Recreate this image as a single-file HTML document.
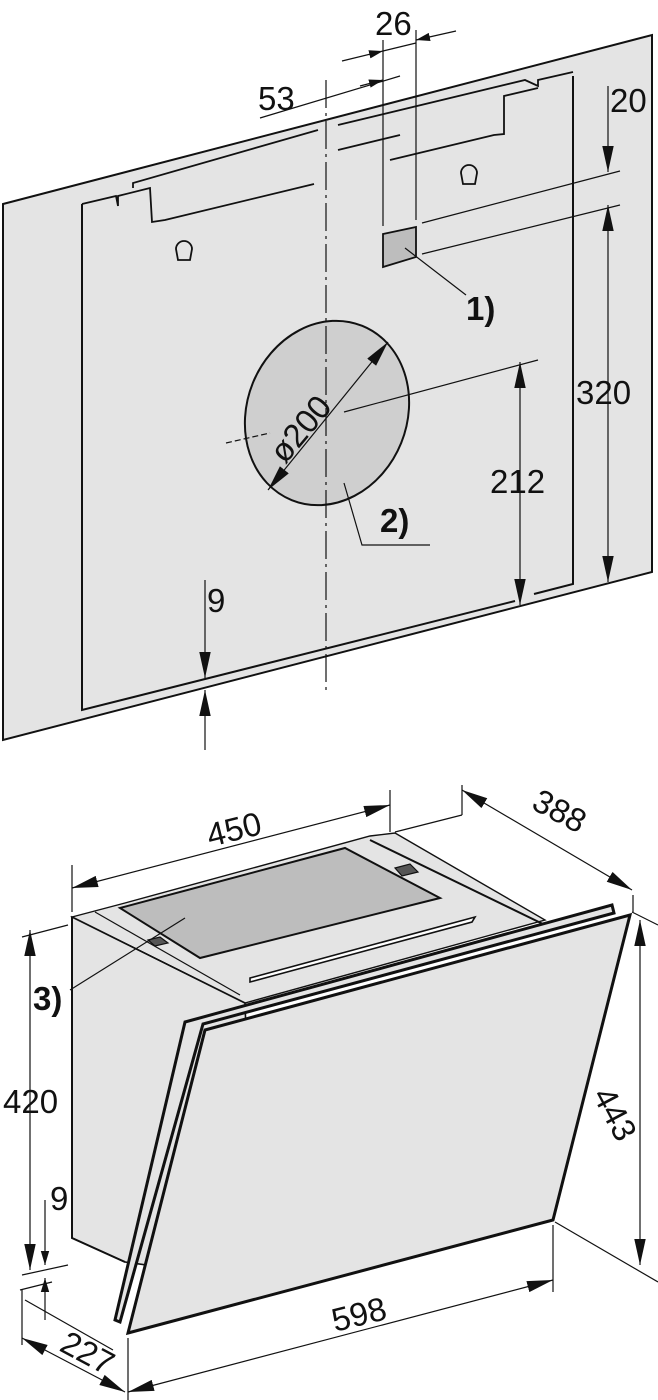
<!DOCTYPE html>
<html><head><meta charset="utf-8"><style>
html,body{margin:0;padding:0;background:#fff;}
svg{display:block;}
text{font-family:"Liberation Sans",sans-serif;fill:#111;}
</style></head><body>
<svg width="658" height="1400" viewBox="0 0 658 1400" xmlns="http://www.w3.org/2000/svg">
<defs>
<marker id="a" viewBox="0 0 10 10" refX="10" refY="5" markerWidth="14" markerHeight="14" markerUnits="userSpaceOnUse" orient="auto-start-reverse"><path d="M0,2 L10,5 L0,8 Z" fill="#111"/></marker>
<marker id="b" viewBox="0 0 10 10" refX="10" refY="5" markerWidth="26" markerHeight="26" markerUnits="userSpaceOnUse" orient="auto-start-reverse"><path d="M0,2.8 L10,5 L0,7.2 Z" fill="#111"/></marker>
</defs>
<g stroke="#111" fill="none" stroke-width="1.2">
<polygon points="3,204 652,35 652,572 3,740" fill="#e4e4e4" stroke-width="2"/>
<polyline points="82,204 82,710 515,601" stroke-width="2"/>
<polyline points="534,594 573,584 573,76" stroke-width="2"/>
<polyline points="82,204 116,196 118,206 118,196 150,188 152,222 165,220 314,184" stroke-width="1.8"/>
<polyline points="133,188 133,183 318,130" stroke-width="1.8"/>
<polyline points="338,125 525,80 538,86 538,80 573,72" stroke-width="1.8"/>
<polyline points="338,150 400,135" stroke-width="1.8"/>
<polyline points="390,160 494,135 504,134 504,96 538,88" stroke-width="1.8"/>
<path d="M178,260 L176,249 A8,8 0 1 1 192,249 L190,260 Z" stroke-width="1.8"/>
<path d="M463,184 L461,173 A8,8 0 1 1 477,173 L475,184 Z" stroke-width="1.8"/>
<ellipse cx="327" cy="413" rx="80" ry="94" transform="rotate(22 327 413)" fill="#cfcfcf" stroke-width="2"/>
<line x1="326" y1="80" x2="326" y2="690" stroke-dasharray="28,5,3,5"/>
<line x1="226" y1="443" x2="270" y2="433" stroke-dasharray="6,3"/>
<line x1="268" y1="490" x2="388" y2="342" marker-start="url(#b)" marker-end="url(#b)"/>
<polygon points="383,234 416,227 416,257 383,267" fill="#bdbdbd" stroke-width="1.8"/>
<line x1="405" y1="248" x2="466" y2="295"/>
<polyline points="344,483 362,545 430,545"/>
<line x1="383" y1="40" x2="383" y2="226"/>
<line x1="416" y1="30" x2="416" y2="220"/>
<line x1="342" y1="61" x2="383" y2="51" marker-end="url(#a)"/>
<line x1="456" y1="31" x2="416" y2="40" marker-end="url(#a)"/>
<line x1="383" y1="51" x2="416" y2="43"/>
<line x1="260" y1="118" x2="400" y2="76"/>
<line x1="360" y1="86" x2="383" y2="80" marker-end="url(#a)"/>
<line x1="422" y1="223" x2="620" y2="171"/>
<line x1="422" y1="254" x2="620" y2="205"/>
<line x1="608" y1="86" x2="608" y2="172" marker-end="url(#b)"/>
<line x1="608" y1="205" x2="608" y2="582" marker-start="url(#b)" marker-end="url(#b)"/>
<line x1="344" y1="412" x2="538" y2="360"/>
<line x1="520" y1="362" x2="520" y2="605" marker-start="url(#b)" marker-end="url(#b)"/>
<line x1="205" y1="580" x2="205" y2="678" marker-end="url(#b)"/>
<line x1="205" y1="750" x2="205" y2="690" marker-end="url(#b)"/>

<polygon points="72,917 125,903 370,836 395,833 545,920 245,1003" fill="#e4e4e4" stroke-width="1.4"/>
<polygon points="72,917 245,1003 255,1280 125,1262 72,1238" fill="#e4e4e4" stroke-width="1.6"/>
<polyline points="72,917 72,1238 125,1262" stroke-width="2"/>
<line x1="72" y1="917" x2="245" y2="1003" stroke-width="1.4"/>
<polygon points="120,908 345,848 440,898 200,958" fill="#bdbdbd" stroke-width="2"/>
<line x1="370" y1="840" x2="545" y2="925" stroke-width="2"/>
<line x1="95" y1="912" x2="240" y2="995"/>
<path d="M250,978 L475,917 L472,922 L250,982 Z" fill="#fff" stroke-width="1.6"/>
<path d="M395,868 L410,864 L418,872 L402,876 Z" fill="#555"/>
<path d="M148,940 L160,937 L168,943 L155,946 Z" fill="#555"/>
<polygon points="185,1022 612,905 614,913 203,1024 120,1322 115,1320" fill="#e4e4e4" stroke-width="3"/>
<polygon points="205,1030 630,915 553,1220 128,1333" fill="#e4e4e4" stroke-width="3"/>
<line x1="185" y1="918" x2="70" y2="990"/>
<line x1="72" y1="865" x2="72" y2="912"/>
<line x1="390" y1="790" x2="390" y2="832"/>
<line x1="72" y1="888" x2="390" y2="805" marker-start="url(#b)" marker-end="url(#b)"/>
<line x1="395" y1="832" x2="462" y2="815"/>
<line x1="462" y1="785" x2="462" y2="815"/>
<line x1="462" y1="790" x2="632" y2="890" marker-start="url(#b)" marker-end="url(#b)"/>
<line x1="633" y1="895" x2="633" y2="912"/>
<line x1="22" y1="937" x2="68" y2="925"/>
<line x1="22" y1="1275" x2="68" y2="1265"/>
<line x1="30" y1="930" x2="30" y2="1270" marker-start="url(#b)" marker-end="url(#b)"/>
<line x1="45" y1="1200" x2="45" y2="1265" marker-end="url(#a)"/>
<line x1="45" y1="1320" x2="45" y2="1278" marker-end="url(#a)"/>
<line x1="20" y1="1290" x2="52" y2="1282"/>
<line x1="632" y1="912" x2="658" y2="925"/>
<line x1="555" y1="1222" x2="658" y2="1282"/>
<line x1="640" y1="920" x2="640" y2="1265" marker-start="url(#b)" marker-end="url(#b)"/>
<line x1="553" y1="1225" x2="553" y2="1292"/>
<line x1="128" y1="1338" x2="128" y2="1400"/>
<line x1="128" y1="1392" x2="553" y2="1280" marker-start="url(#b)" marker-end="url(#b)"/>
<line x1="22" y1="1290" x2="22" y2="1345"/>
<line x1="25" y1="1300" x2="113" y2="1350"/>
<line x1="22" y1="1338" x2="125" y2="1392" marker-start="url(#b)" marker-end="url(#b)"/>
</g>
<g font-size="33">
<text x="375" y="35">26</text>
<text x="258" y="110">53</text>
<text x="610" y="112">20</text>
<text x="576" y="404">320</text>
<text x="490" y="493">212</text>
<text x="207" y="612">9</text>
<text x="466" y="320" font-weight="bold">1)</text>
<text x="380" y="532" font-weight="bold">2)</text>
<text x="0" y="0" transform="translate(285,465) rotate(-50)">ø200</text>
<text x="0" y="0" transform="translate(210,847) rotate(-14)">450</text>
<text x="0" y="0" transform="translate(530,808) rotate(28)">388</text>
<text x="3" y="1113">420</text>
<text x="50" y="1210">9</text>
<text x="0" y="0" transform="translate(592,1095) rotate(62)">443</text>
<text x="0" y="0" transform="translate(335,1332) rotate(-14)">598</text>
<text x="0" y="0" transform="translate(58,1350) rotate(28)">227</text>
<text x="33" y="1010" font-weight="bold">3)</text>
</g>
</svg>
</body></html>
